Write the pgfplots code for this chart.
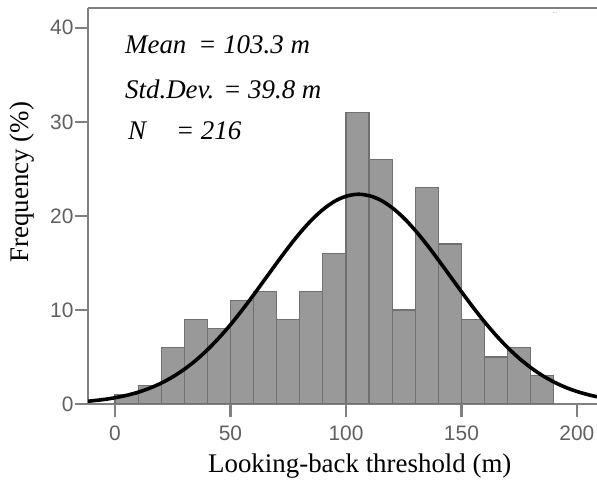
\documentclass[border=0pt]{standalone}
\usepackage{pgfplots}
\pgfplotsset{compat=1.18}
\usepackage{fontspec}
\setmainfont{Liberation Serif}
\newfontfamily\tickfont{Liberation Sans}
\definecolor{barfill}{HTML}{999999}
\definecolor{baredge}{HTML}{707070}
\definecolor{axisgray}{HTML}{808080}
\definecolor{ticktext}{HTML}{606060}

\begin{document}
\begin{tikzpicture}
  \useasboundingbox (0,0) rectangle (597bp,481bp);
  \begin{axis}[
      at={(88bp,77bp)}, anchor=south west,
      scale only axis,
      width=509bp, height=396bp,
      xmin=-11.7, xmax=208.7,
      ymin=0, ymax=42.1,
      axis x line*=bottom, axis y line*=left,
      axis line style={axisgray, line width=2.5bp, -},
      xtick={0,50,100,150,200},
      ytick={0,10,20,30,40},
      tick align=outside,
      major tick length=13bp,
      tick style={axisgray, line width=2.5bp},
      tick label style={font=\tickfont\fontsize{21}{22}\selectfont, text=ticktext},
      /pgf/number format/assume math mode=true,
      xticklabel style={yshift=-5bp},
      yticklabel style={xshift=2bp},
      xlabel={Looking-back threshold (m)},
      ylabel={Frequency (\%)},
      label style={font=\fontsize{27}{29}\selectfont},
      xlabel style={at={(axis description cs:0.534,-0.157)}, anchor=center},
      ylabel style={at={(axis description cs:-0.13,0.56)}, anchor=center, rotate=0},
      clip=true,
    ]
    % histogram counts, bins of 10 m
    \addplot[ybar interval, fill=barfill, draw=baredge, line width=1.2bp] coordinates {
      (0,1) (10,2) (20,6) (30,9) (40,8) (50,11) (60,12) (70,9) (80,12) (90,16)
      (100,31) (110,26) (120,10) (130,23) (140,17) (150,9) (160,5) (170,6) (180,3) (190,0)
    };
    % fitted normal curve
    \addplot[smooth, black, line width=3.6bp] coordinates {
      (-11.7,0.29) (-4.5,0.49) (0.5,0.69) (5.5,0.95) (10.5,1.29) (15.5,1.73) (20.5,2.28)
      (25.5,2.96) (30.5,3.78) (35.5,4.75) (40.5,5.88) (45.5,7.16) (50.5,8.58) (55.5,10.13)
      (60.5,11.77) (65.5,13.46) (70.5,15.15) (75.5,16.79) (80.5,18.31) (85.5,19.66)
      (90.5,20.77) (95.5,21.61) (100.5,22.12) (105.5,22.30) (110.5,22.12) (115.5,21.61)
      (120.5,20.77) (125.5,19.66) (130.5,18.31) (135.5,16.79) (140.5,15.15) (145.5,13.46)
      (150.5,11.77) (155.5,10.13) (160.5,8.58) (165.5,7.16) (170.5,5.88) (175.5,4.75)
      (180.5,3.78) (185.5,2.96) (190.5,2.28) (195.5,1.73) (200.5,1.29) (205.5,0.95) (208.7,0.77)
    };
    \draw[axisgray, line width=2.5bp] (rel axis cs:0,1) -- (rel axis cs:1,1);
    \node[anchor=west, font=\itshape\fontsize{27}{29}\selectfont, inner sep=0pt]
      at (axis cs:4.3,38.2) {Mean\hspace*{12bp}= 103.3 m};
    \node[anchor=west, font=\itshape\fontsize{27}{29}\selectfont, inner sep=0pt]
      at (axis cs:4.3,33.5) {Std.Dev. = 39.8 m};
    \node[anchor=west, font=\itshape\fontsize{27}{29}\selectfont, inner sep=0pt]
      at (axis cs:5.6,29.0) {N\hspace*{30bp}= 216};
    \node[font=\fontsize{6}{6}\selectfont, text=axisgray] at (axis cs:190.5,41.5) {...};
  \end{axis}
\end{tikzpicture}
\end{document}
